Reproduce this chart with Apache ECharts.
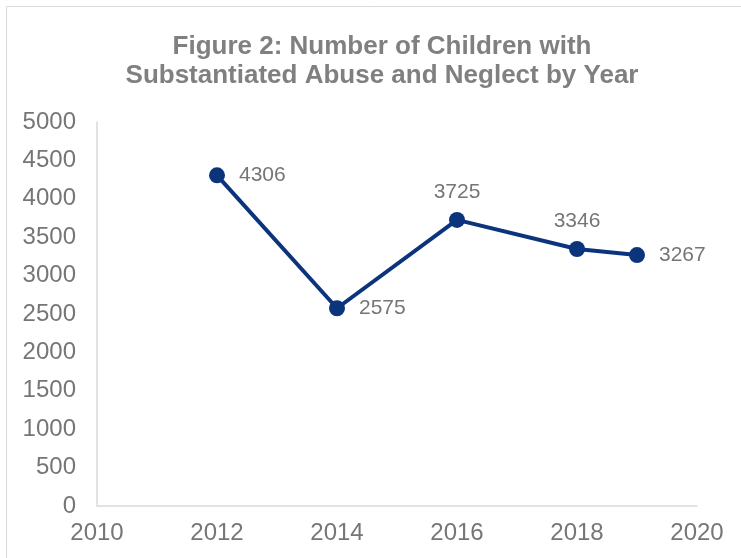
<!DOCTYPE html>
<html>
<head>
<meta charset="utf-8">
<script src="https://cdn.jsdelivr.net/npm/echarts@6/dist/echarts.min.js"></script>
<style>
  html, body { margin: 0; padding: 0; background: #fff; }
  #chart { width: 741px; height: 558px; }
</style>
</head>
<body>
<div id="chart"></div>
<script>
// Children with substantiated abuse and neglect, by year
const years = [2012, 2014, 2016, 2018, 2019];
const counts = [4306, 2575, 3725, 3346, 3267];
const labelSides = ['right', 'right', 'top', 'top', 'right'];

const titleText = 'Figure 2: Number of Children with\nSubstantiated Abuse and Neglect by Year';

const points = years.map((y, i) => ({
  value: [y, counts[i]],
  label: {
    position: labelSides[i],
    distance: labelSides[i] === 'top' ? 9 : 14
  }
}));

const chart = echarts.init(document.getElementById('chart'), null, { renderer: 'canvas' });
chart.setOption({
  animation: false,
  backgroundColor: '#ffffff',
  textStyle: { fontFamily: 'Liberation Sans, Arial, sans-serif' },
  graphic: [{
    type: 'rect',
    shape: { x: 6.5, y: 6.5, width: 800, height: 600 },
    style: { fill: 'none', stroke: '#d9d9d9', lineWidth: 1 },
    silent: true, z: -1
  }],
  title: {
    text: titleText,
    left: 377,
    top: 27,
    textAlign: 'center',
    textStyle: {
      fontFamily: 'Liberation Sans, Arial, sans-serif',
      fontSize: 26,
      fontWeight: 'bold',
      color: '#808080',
      lineHeight: 29
    }
  },
  grid: { left: 97, right: 44, top: 122, bottom: 52, containLabel: false },
  xAxis: {
    type: 'value',
    min: 2010,
    max: 2020,
    interval: 2,
    axisLine: { show: true, lineStyle: { color: '#d9d9d9', width: 1.5 } },
    axisTick: { show: false },
    splitLine: { show: false },
    axisLabel: {
      color: '#767676',
      fontSize: 24,
      margin: 15,
      formatter: v => String(v)
    }
  },
  yAxis: {
    type: 'value',
    min: 0,
    max: 5000,
    interval: 500,
    axisLine: { show: true, lineStyle: { color: '#d9d9d9', width: 1.5 } },
    axisTick: { show: false },
    splitLine: { show: false },
    axisLabel: {
      color: '#767676',
      fontSize: 24,
      margin: 21,
      formatter: v => String(v)
    }
  },
  series: [{
    type: 'line',
    data: points,
    symbol: 'circle',
    symbolSize: 16,
    itemStyle: { color: '#0b347c' },
    lineStyle: { color: '#0b347c', width: 4 },
    label: {
      show: true,
      color: '#767676',
      fontSize: 21,
      formatter: p => String(p.value[1])
    }
  }]
});
</script>
</body>
</html>
